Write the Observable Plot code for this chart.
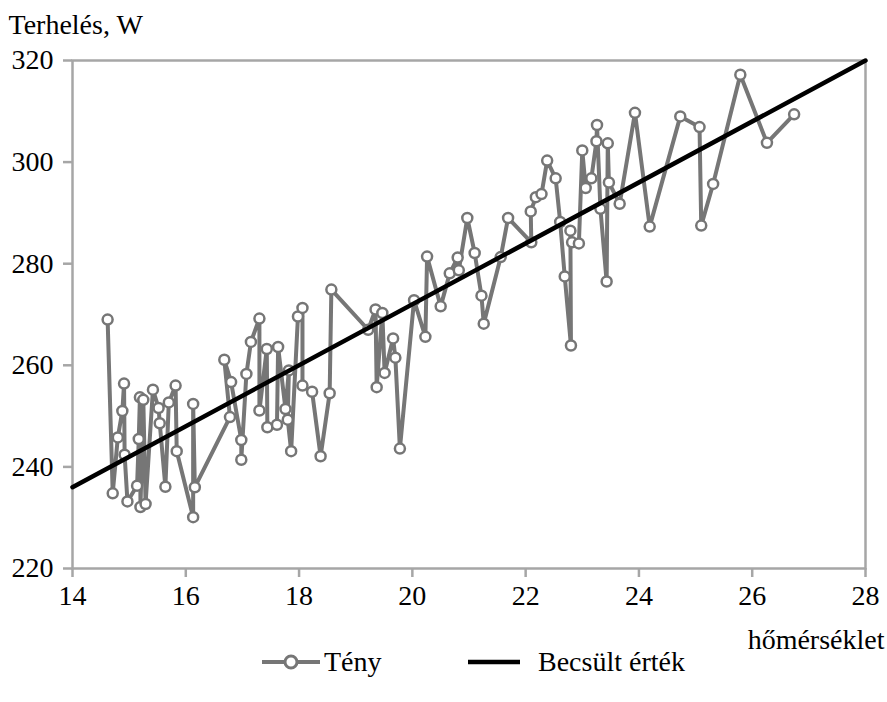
<!DOCTYPE html>
<html>
<head>
<meta charset="utf-8">
<script src="https://cdn.jsdelivr.net/npm/d3@7"></script>
<script src="https://cdn.jsdelivr.net/npm/@observablehq/plot@0.6"></script>
<style>
  body { margin: 0; background: white; font-family: "Liberation Serif", "Times New Roman", serif; }
  #wrap { position: relative; width: 887px; height: 702px; }
  #legend { position: absolute; left: 262px; top: 648px; display: flex; align-items: center; font-size: 28px; line-height: 28px; color: black; }
  .item { display: flex; align-items: center; }
  #chart svg text { font-family: "Liberation Serif", "Times New Roman", serif; }
</style>
</head>
<body>
<div id="wrap">
  <div id="chart"></div>
  <div id="legend">
    <div class="item" style="width:206px">
      <svg width="58" height="20"><line x1="0" y1="10" x2="58" y2="10" stroke="#767676" stroke-width="4"/><circle cx="29" cy="10" r="6" fill="white" stroke="#767676" stroke-width="3"/></svg>
      <span style="margin-left:4px">Tény</span>
    </div>
    <div class="item">
      <svg width="52" height="20"><line x1="0" y1="10" x2="52" y2="10" stroke="black" stroke-width="4.5"/></svg>
      <span style="margin-left:18px">Becsült érték</span>
    </div>
  </div>
</div>
<script>
// Measured series (Tény): temperature and load, in drawing order
const temp = [14.62, 14.71, 14.80, 14.88, 14.91, 14.92, 14.97, 15.14, 15.17, 15.19, 15.20, 15.25, 15.29, 15.42, 15.52, 15.54, 15.64, 15.70, 15.82, 15.84,
  16.13, 16.13, 16.16, 16.78, 16.68, 16.80, 16.98, 16.98, 17.07, 17.15, 17.30, 17.30, 17.43, 17.44, 17.61, 17.63, 17.76, 17.82, 17.80, 17.86,
  17.98, 18.06, 18.06, 18.23, 18.38, 18.54, 18.57, 19.22, 19.35, 19.37, 19.47, 19.51, 19.66, 19.70, 19.78, 20.03, 20.23, 20.26, 20.50, 20.66,
  20.80, 20.82, 20.97, 21.10, 21.22, 21.26, 21.56, 21.69, 22.10, 22.09, 22.18, 22.28, 22.38, 22.53, 22.61, 22.69, 22.80, 22.79, 22.82, 22.94,
  23.00, 23.06, 23.16, 23.25, 23.26, 23.32, 23.43, 23.45, 23.47, 23.66, 23.93, 24.19, 24.73, 25.07, 25.10, 25.31, 25.79, 26.26, 26.74];
const load = [269.0, 234.8, 245.8, 251.0, 256.4, 242.4, 233.2, 236.3, 245.5, 253.7, 232.1, 253.2, 232.7, 255.2, 251.6, 248.6, 236.1, 252.7, 256.0, 243.1,
  230.1, 252.4, 236.0, 249.8, 261.1, 256.7, 245.3, 241.4, 258.3, 264.6, 269.2, 251.1, 263.2, 247.8, 248.3, 263.6, 251.4, 259.0, 249.3, 243.1,
  269.6, 271.3, 256.0, 254.8, 242.1, 254.5, 274.9, 267.0, 271.0, 255.7, 270.3, 258.5, 265.3, 261.5, 243.6, 272.8, 265.6, 281.4, 271.6, 278.1,
  281.2, 278.7, 289.0, 282.1, 273.7, 268.2, 281.3, 289.0, 284.2, 290.3, 293.1, 293.7, 300.3, 296.8, 288.2, 277.5, 263.9, 286.5, 284.2, 284.0,
  302.3, 294.9, 296.8, 304.1, 307.3, 290.8, 276.5, 303.7, 296.0, 291.8, 309.7, 287.3, 309.0, 306.9, 287.5, 295.7, 317.2, 303.8, 309.4];
// Estimated series (Becsült érték)
const fitX = [14, 28];
const fitY = [236, 320];
// Axis ticks
const xTicks = [14, 16, 18, 20, 22, 24, 26, 28];
const yTicks = [220, 240, 260, 280, 300, 320];

const actual = temp.map((t, i) => ({t, w: load[i]}));
const fit = fitX.map((t, i) => ({t, w: fitY[i]}));

const gray = "#767676";
const axisGray = "#a6a6a6";
const serif = "Liberation Serif, Times New Roman, serif";

const chart = Plot.plot({
  width: 887,
  height: 650,
  marginLeft: 72,
  marginRight: 22,
  marginTop: 60,
  marginBottom: 82,
  style: {fontFamily: serif, fontSize: "28px", color: "black", background: "white", overflow: "visible"},
  x: {domain: [14, 28]},
  y: {domain: [220, 320]},
  marks: [
    Plot.frame({stroke: axisGray, strokeWidth: 2.5}),
    Plot.axisY({ticks: yTicks, tickSize: 9, tickPadding: 10, stroke: axisGray, strokeWidth: 2.5, label: null, fontSize: 28, fontFamily: serif, fill: "black"}),
    Plot.axisX({ticks: xTicks, tickSize: 9, tickPadding: 8, stroke: axisGray, strokeWidth: 2.5, label: "hőmérséklet", labelAnchor: "right", labelArrow: "none", labelOffset: 80, fontSize: 28, fontFamily: serif, fill: "black"}),
    Plot.text(["Terhelés, W"], {frameAnchor: "top-left", dx: -64, dy: -27, textAnchor: "start", lineAnchor: "bottom", fontSize: 28, fontFamily: serif, fill: "black"}),
    Plot.line(actual, {x: "t", y: "w", stroke: gray, strokeWidth: 4, strokeLinejoin: "round"}),
    Plot.dot(actual, {x: "t", y: "w", r: 5, fill: "white", stroke: gray, strokeWidth: 2.5}),
    Plot.line(fit, {x: "t", y: "w", stroke: "black", strokeWidth: 4.5})
  ]
});
document.getElementById("chart").appendChild(chart);
</script>
</body>
</html>
